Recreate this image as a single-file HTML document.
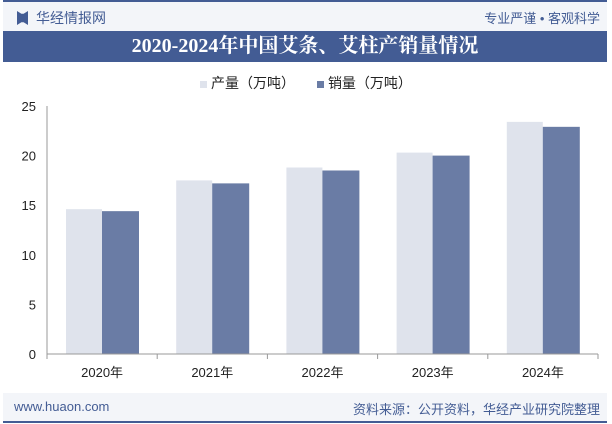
<!DOCTYPE html>
<html><head><meta charset="utf-8"><style>
body{margin:0;width:612px;height:424px;overflow:hidden;background:#fff;font-family:"Liberation Sans","Noto Sans CJK SC",sans-serif;position:relative}
.abs{position:absolute}
</style></head><body>
<div class="abs" style="left:3px;top:0;width:604px;height:31px;background:#f3f5f9;border-top:2px solid #435c94"></div>
<div class="abs" style="left:17px;top:11px;width:11px;height:14px;background:#435c94;clip-path:polygon(0 0,40% 20%,60% 20%,100% 0,100% 100%,60% 80%,40% 80%,0 100%)"></div>
<div class="abs" style="left:36px;top:8px;font-size:14px;color:#435c94">华经情报网</div>
<div class="abs" style="right:12px;top:8px;font-size:13px;color:#435c94">专业严谨 • 客观科学</div>
<div class="abs" style="left:3px;top:31px;width:604px;height:31px;background:#435c94;color:#fff;font-family:'Liberation Serif','Noto Serif CJK SC',serif;font-weight:bold;font-size:20px;line-height:31px;text-align:center">2020-2024年中国艾条、艾柱产销量情况</div>
<div class="abs" style="left:0;width:612px;top:73px;text-align:center;font-size:14px;color:#222">
<span><span style="display:inline-block;width:7px;height:7px;background:#dfe3ec;margin-right:4px"></span>产量（万吨）</span>
<span style="margin-left:18px"><span style="display:inline-block;width:7px;height:7px;background:#6a7ca5;margin-right:4px"></span>销量（万吨）</span>
</div>
<svg class="abs" style="left:0;top:0" width="612" height="424">
<g id="g"></g>
</svg>
<div class="abs" style="left:3px;top:393px;width:604px;height:28px;background:#f3f5f9;border-bottom:2px solid #435c94"></div>
<div class="abs" style="left:14px;top:399px;font-size:13px;color:#435c94">www.huaon.com</div>
<div class="abs" style="right:12px;top:399px;font-size:13px;color:#435c94">资料来源：公开资料，华经产业研究院整理</div>
<script>
const categories=["2020年","2021年","2022年","2023年","2024年"];
const production=[14.6,17.5,18.8,20.3,23.4];
const sales=[14.4,17.2,18.5,20.0,22.9];
const yTicks=[0,5,10,15,20,25];
const ns="http://www.w3.org/2000/svg",g=document.getElementById("g");
const x0=47,x1=598,y0=354,y1=106,band=(x1-x0)/categories.length;
const y=v=>y0-(v/25)*(y0-y1);
function el(t,a,txt){const e=document.createElementNS(ns,t);for(const k in a)e.setAttribute(k,a[k]);if(txt!=null)e.textContent=txt;g.appendChild(e);return e;}
yTicks.forEach(v=>{const t=el("text",{x:36,y:y(v)+5,"text-anchor":"end","font-size":13,fill:"#222"},v);

});
const ya=el("line",{x1:x0,x2:x0,y1:y1,y2:y0,stroke:"#999"});


categories.forEach((c,i)=>{
const bx=x0+i*band;
const b1=el("rect",{x:bx+19,y:y(production[i]),width:36,height:y0-y(production[i]),fill:"#dfe3ec"});


const b2=el("rect",{x:bx+55,y:y(sales[i]),width:37,height:y0-y(sales[i]),fill:"#6a7ca5"});


const t=el("text",{x:bx+band/2,y:377,"text-anchor":"middle","font-size":13,fill:"#222"},c);


});
for(let i=0;i<=categories.length;i++){const tk=el("line",{x1:x0+i*band,x2:x0+i*band,y1:y0,y2:y0+5,stroke:"#999"});

}
const xa=el("line",{x1:x0,x2:x1,y1:y0,y2:y0,stroke:"#999"});


</script>
</body></html>
